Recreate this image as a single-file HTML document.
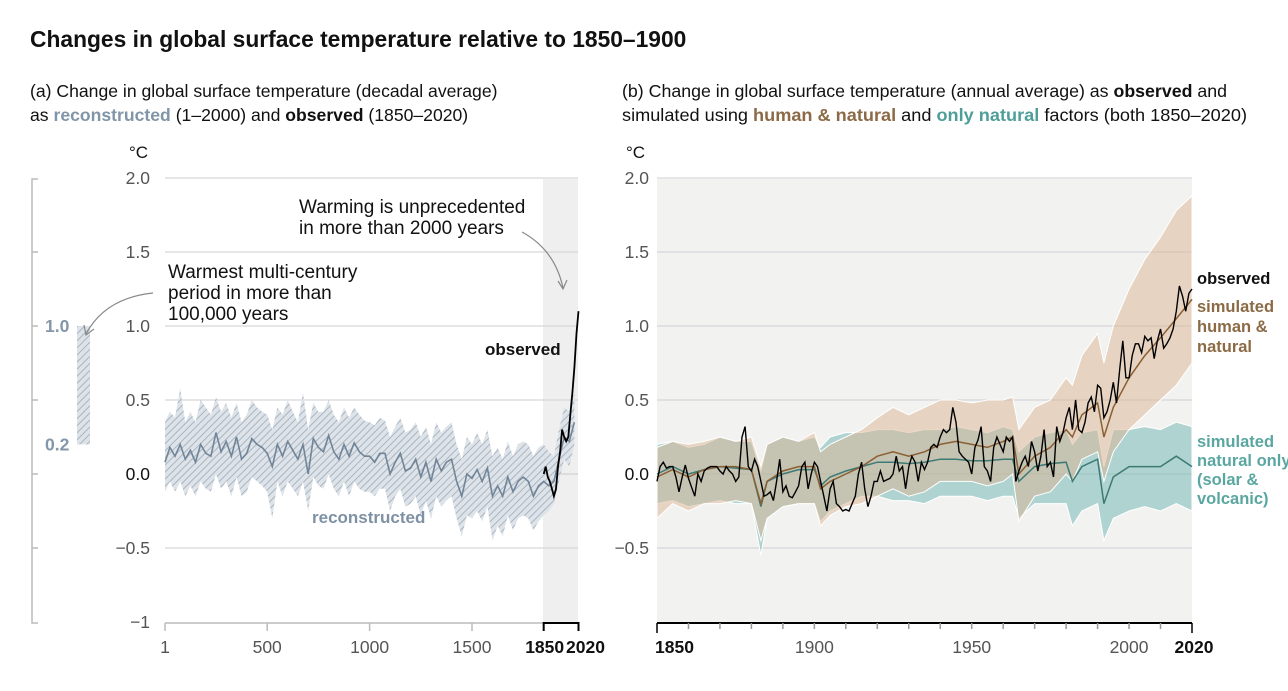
<!DOCTYPE html>
<html><head><meta charset="utf-8">
<style>
body{margin:0;background:#fff;width:1288px;height:686px;overflow:hidden;font-family:"Liberation Sans",sans-serif;}
svg text{font-family:"Liberation Sans",sans-serif;}
</style></head>
<body>
<svg id="chart" width="1288" height="686" viewBox="0 0 1288 686">
<defs>
<pattern id="hatch" patternUnits="userSpaceOnUse" width="5" height="5" patternTransform="rotate(45)">
<rect width="5" height="5" fill="#dde3e8"/>
<line x1="0" y1="0" x2="0" y2="5" stroke="#a9b5c1" stroke-width="2"/>
</pattern>
</defs>
<text x="30" y="47" font-size="22.8" font-weight="bold" fill="#111">Changes in global surface temperature relative to 1850–1900</text>
<text x="30" y="97" font-size="17.6" fill="#111">(a) Change in global surface temperature (decadal average)</text>
<text x="30" y="121" font-size="17.6" fill="#111">as <tspan fill="#8195a8" font-weight="bold">reconstructed</tspan> (1–2000) and <tspan font-weight="bold">observed</tspan> (1850–2020)</text>
<text x="622" y="97" font-size="17.6" fill="#111" textLength="605" lengthAdjust="spacingAndGlyphs">(b) Change in global surface temperature (annual average) as <tspan font-weight="bold">observed</tspan> and</text>
<text x="622" y="121" font-size="17.6" fill="#111" textLength="625" lengthAdjust="spacingAndGlyphs">simulated using <tspan fill="#8b6a45" font-weight="bold">human &amp; natural</tspan> and <tspan fill="#4f9e98" font-weight="bold">only natural</tspan> factors (both 1850–2020)</text>
<text x="129" y="158" font-size="17" fill="#111">°C</text>
<text x="626" y="158" font-size="17" fill="#111">°C</text>
<g id="pa"></g>
<g id="pb"></g>
</svg>
<script>
// ---------- Panel A data ----------
const rcMed=[0.08,0.18,0.12,0.20,0.10,0.16,0.08,0.20,0.14,0.12,0.28,0.15,0.22,0.12,0.25,0.10,0.14,0.24,0.20,0.18,0.14,0.05,0.20,0.12,0.22,0.16,0.10,0.20,0.0,0.24,0.18,0.15,0.26,0.15,0.10,0.20,0.12,0.21,0.15,0.12,0.12,0.08,0.14,0.14,0.0,0.08,0.14,0.02,0.04,0.10,-0.02,0.08,-0.05,0.10,0.02,0.08,0.10,-0.05,-0.15,0.0,-0.03,0.03,-0.05,0.04,-0.15,-0.08,-0.15,-0.02,-0.12,-0.05,-0.02,-0.05,-0.15,-0.08,-0.05,-0.08,-0.05,0.10,0.25,0.22,0.35];
const rcHi=[0.35,0.42,0.38,0.58,0.35,0.42,0.35,0.5,0.45,0.4,0.52,0.42,0.48,0.38,0.48,0.35,0.4,0.5,0.45,0.42,0.4,0.3,0.45,0.4,0.5,0.42,0.35,0.55,0.3,0.48,0.42,0.42,0.5,0.4,0.35,0.45,0.38,0.45,0.4,0.36,0.35,0.33,0.38,0.36,0.25,0.32,0.38,0.28,0.3,0.35,0.25,0.32,0.2,0.35,0.28,0.32,0.35,0.2,0.1,0.25,0.2,0.28,0.2,0.3,0.12,0.18,0.1,0.22,0.12,0.2,0.22,0.2,0.12,0.18,0.2,0.15,0.12,0.3,0.45,0.42,0.55];
const rcLo=[-0.12,-0.05,-0.12,-0.05,-0.15,-0.08,-0.15,-0.05,-0.1,-0.12,0.0,-0.1,-0.05,-0.15,-0.02,-0.15,-0.12,-0.02,-0.05,-0.08,-0.12,-0.3,-0.05,-0.15,-0.05,-0.1,-0.15,-0.05,-0.25,-0.02,-0.08,-0.1,0.0,-0.1,-0.15,-0.05,-0.15,-0.05,-0.1,-0.12,-0.12,-0.15,-0.1,-0.1,-0.25,-0.15,-0.1,-0.22,-0.2,-0.15,-0.28,-0.18,-0.3,-0.15,-0.22,-0.18,-0.15,-0.3,-0.42,-0.28,-0.3,-0.25,-0.32,-0.22,-0.45,-0.35,-0.42,-0.28,-0.38,-0.3,-0.28,-0.3,-0.38,-0.32,-0.28,-0.25,-0.2,-0.05,0.1,0.05,0.2];
const obsDecYears=[1850,1860,1870,1880,1890,1900,1910,1920,1930,1940,1950,1960,1970,1980,1990,2000,2010,2020];
const obsDec=[0.0,0.05,-0.02,-0.05,-0.1,-0.15,-0.1,0.05,0.15,0.3,0.25,0.22,0.25,0.4,0.55,0.72,0.95,1.1];
const aYTicks=[2.0,1.5,1.0,0.5,0.0,-0.5,-1];
const aYLabels=["2.0","1.5","1.0","0.5","0.0","−0.5","−1"];
const aXTicks=[1,500,1000,1500];
// ---------- Panel B data ----------
const obsAnnual=[-0.05,0.05,0.08,0.04,0.05,0.05,-0.02,-0.12,-0.02,0.06,
-0.03,-0.09,-0.15,0.0,-0.05,0.02,0.04,0.05,0.05,0.05,
0.02,0.0,0.05,0.02,0.0,-0.05,-0.02,0.25,0.32,0.05,
0.02,0.10,0.05,-0.05,-0.15,-0.14,-0.12,-0.18,-0.05,0.1,
-0.12,-0.08,-0.15,-0.16,-0.12,-0.08,0.05,0.08,-0.1,0.0,
0.08,0.05,-0.05,-0.15,-0.25,-0.1,-0.05,-0.2,-0.22,-0.25,
-0.24,-0.25,-0.2,-0.15,0.0,0.08,-0.1,-0.22,-0.15,-0.05,
-0.05,0.02,-0.05,-0.04,-0.03,0.0,0.12,0.02,0.05,-0.1,
0.05,0.12,0.08,-0.05,0.08,0.03,0.08,0.18,0.2,0.18,
0.25,0.3,0.28,0.3,0.45,0.35,0.15,0.12,0.1,0.08,
0.0,0.18,0.23,0.32,0.05,0.02,-0.05,0.18,0.25,0.2,
0.15,0.25,0.22,0.25,-0.05,0.02,0.08,0.12,0.05,0.22,
0.15,0.02,0.12,0.3,0.05,0.08,-0.02,0.32,0.22,0.28,
0.38,0.45,0.3,0.5,0.3,0.28,0.35,0.48,0.52,0.42,
0.6,0.58,0.38,0.42,0.5,0.62,0.48,0.7,0.9,0.65,
0.65,0.8,0.88,0.88,0.82,0.93,0.9,0.92,0.78,0.9,
0.98,0.85,0.88,0.92,0.98,1.1,1.27,1.2,1.1,1.22,
1.25];
const simYears=[1850,1855,1860,1865,1870,1875,1880,1883,1885,1890,1895,1900,1902,1905,1910,1915,1920,1925,1930,1935,1940,1945,1950,1955,1960,1963,1965,1970,1975,1980,1982,1985,1990,1992,1995,2000,2005,2010,2015,2020];
const hnMed=[-0.02,0.03,-0.02,0.03,0.05,0.05,0.03,-0.2,-0.05,0.02,0.05,0.05,-0.1,-0.05,0.0,0.05,0.12,0.15,0.12,0.15,0.2,0.22,0.2,0.18,0.22,0.25,0.0,0.12,0.18,0.3,0.25,0.4,0.48,0.25,0.45,0.65,0.8,0.92,1.05,1.18];
const hnHi=[0.18,0.22,0.2,0.22,0.25,0.22,0.25,0.05,0.2,0.25,0.22,0.28,0.15,0.2,0.25,0.3,0.38,0.45,0.4,0.45,0.5,0.5,0.48,0.5,0.5,0.52,0.3,0.45,0.5,0.65,0.6,0.8,0.95,0.75,1.0,1.25,1.45,1.6,1.78,1.88];
const hnLo=[-0.3,-0.2,-0.25,-0.2,-0.2,-0.18,-0.2,-0.45,-0.3,-0.22,-0.2,-0.2,-0.35,-0.28,-0.22,-0.2,-0.15,-0.1,-0.15,-0.12,-0.05,-0.05,-0.05,-0.08,-0.05,0.0,-0.32,-0.15,-0.12,0.0,-0.05,0.1,0.15,-0.05,0.15,0.3,0.4,0.5,0.6,0.75];
const natMed=[0.0,0.05,0.0,0.03,0.05,0.04,0.03,-0.22,-0.05,0.0,0.03,0.03,-0.08,-0.02,0.02,0.05,0.08,0.08,0.07,0.08,0.1,0.1,0.09,0.09,0.1,0.1,-0.05,0.05,0.07,0.08,-0.05,0.05,0.1,-0.2,-0.02,0.05,0.05,0.05,0.12,0.05];
const natHi=[0.2,0.22,0.18,0.2,0.25,0.22,0.22,0.02,0.2,0.25,0.22,0.25,0.18,0.25,0.28,0.28,0.3,0.3,0.28,0.3,0.3,0.32,0.3,0.28,0.32,0.3,0.15,0.25,0.28,0.3,0.2,0.28,0.3,0.05,0.3,0.3,0.32,0.3,0.35,0.32];
const natLo=[-0.2,-0.18,-0.22,-0.2,-0.18,-0.2,-0.2,-0.55,-0.3,-0.22,-0.2,-0.2,-0.32,-0.25,-0.2,-0.15,-0.15,-0.18,-0.18,-0.2,-0.15,-0.15,-0.15,-0.18,-0.15,-0.15,-0.3,-0.2,-0.2,-0.2,-0.35,-0.25,-0.2,-0.45,-0.3,-0.25,-0.22,-0.25,-0.2,-0.25];
const bYTicks=[2.0,1.5,1.0,0.5,0.0,-0.5];
const bYLabels=["2.0","1.5","1.0","0.5","0.0","−0.5"];
const bXLabels=[1900,1950,2000];

const NS="http://www.w3.org/2000/svg";
function mk(parent,tag,attrs,txt){const e=document.createElementNS(NS,tag);for(const k in attrs)e.setAttribute(k,attrs[k]);if(txt!==undefined)e.textContent=txt;parent.appendChild(e);return e;}
const yS=v=>474-v*148;
const xA=yr=>165+(yr-1)*(413.5/2019);
const xB=yr=>657+(yr-1850)*(535/170);
const rcYears=[];for(let i=0;i<rcMed.length;i++)rcYears.push(i===0?1:i*25);
const obsYears=[];for(let i=0;i<obsAnnual.length;i++)obsYears.push(1850+i);
function linePath(xs,ys,xf){return xs.map((x,i)=>(i?"L":"M")+xf(x).toFixed(1)+","+yS(ys[i]).toFixed(1)).join("");}
function bandPath(xs,hi,lo,xf){let d=xs.map((x,i)=>(i?"L":"M")+xf(x).toFixed(1)+","+yS(hi[i]).toFixed(1)).join("");for(let i=xs.length-1;i>=0;i--)d+="L"+xf(xs[i]).toFixed(1)+","+yS(lo[i]).toFixed(1);return d+"Z";}

// ---------- Panel A ----------
const pa=document.getElementById('pa');
let e=mk(pa,'rect',{x:543,y:179,width:35,height:444,fill:'#efefef'});


aYTicks.forEach((t,i)=>{
  if(t>-1){const g=mk(pa,'line',{x1:165,x2:578,y1:yS(t),y2:yS(t),stroke:t===0?'#d0d0d0':'#d8d8dc','stroke-width':1.2});
  
  }
  const l=mk(pa,'text',{x:150,y:yS(t)+6,'font-size':17.5,'text-anchor':'end',fill:t===0?'#111':'#555'},aYLabels[i]);
  
  
});
e=mk(pa,'path',{d:bandPath(rcYears,rcHi,rcLo,xA),fill:'url(#hatch)'});


e=mk(pa,'path',{d:linePath(rcYears,rcMed,xA),fill:'none',stroke:'#728598','stroke-width':1.6});


e=mk(pa,'path',{d:linePath(obsDecYears,obsDec,xA),fill:'none',stroke:'#000','stroke-width':1.8});


e=mk(pa,'line',{x1:165,x2:578,y1:623,y2:623,stroke:'#bbb','stroke-width':1.5});


aXTicks.forEach(t=>{
  const k=mk(pa,'line',{x1:xA(t),x2:xA(t),y1:623,y2:631,stroke:'#bbb','stroke-width':1.5});
  
  
  const l=mk(pa,'text',{x:xA(t),y:653,'font-size':17.5,'text-anchor':'middle',fill:'#555'},String(t));
  
  
});
e=mk(pa,'path',{d:`M${xA(1850)},631V623H${xA(2020)}V631`,fill:'none',stroke:'#000','stroke-width':2});


e=mk(pa,'text',{x:xA(1850)+1,y:653,'font-size':17.5,'font-weight':'bold','text-anchor':'middle',fill:'#111'},'1850');


e=mk(pa,'text',{x:xA(2020)+7,y:653,'font-size':17.5,'font-weight':'bold','text-anchor':'middle',fill:'#111'},'2020');


// left reference scale
e=mk(pa,'path',{d:'M38,179H32V623H38',fill:'none',stroke:'#bbb','stroke-width':1.5});


aYTicks.slice(1,6).forEach(t=>{const k=mk(pa,'line',{x1:32,x2:38,y1:yS(t),y2:yS(t),stroke:'#bbb','stroke-width':1.5});

});
e=mk(pa,'rect',{x:77,y:yS(1.0),width:13,height:yS(0.2)-yS(1.0),fill:'url(#hatch)'});


e=mk(pa,'text',{x:45,y:yS(1.0)+6,'font-size':17.5,fill:'#8496aa','font-weight':'bold'},'1.0');


e=mk(pa,'text',{x:45,y:yS(0.2)+6,'font-size':17.5,fill:'#8496aa','font-weight':'bold'},'0.2');


// annotations
[['Warming is unprecedented',299,213],['in more than 2000 years',299,234]].forEach(a=>{const t=mk(pa,'text',{x:a[1],y:a[2],'font-size':19,fill:'#111'},a[0]);

});
[['Warmest multi-century',168,278],['period in more than',168,299],['100,000 years',168,320]].forEach(a=>{const t=mk(pa,'text',{x:a[1],y:a[2],'font-size':19,fill:'#111'},a[0]);

});
e=mk(pa,'path',{d:'M522,232Q555,250 563,288M558,281L563,289L567,280',fill:'none',stroke:'#888','stroke-width':1.2});


e=mk(pa,'path',{d:'M153,293Q105,298 86,334M84,325L86,335L94,329',fill:'none',stroke:'#888','stroke-width':1.2});


e=mk(pa,'text',{x:485,y:355,'font-size':17,'font-weight':'bold',fill:'#111'},'observed');


e=mk(pa,'text',{x:312,y:523,'font-size':17,'font-weight':'bold',fill:'#7e91a4'},'reconstructed');



// ---------- Panel B ----------
const pb=document.getElementById('pb');
e=mk(pb,'rect',{x:657,y:179,width:535,height:444,fill:'#f2f2f1'});


bYTicks.forEach((t,i)=>{
  const g=mk(pb,'line',{x1:657,x2:1192,y1:yS(t),y2:yS(t),stroke:'#d6d6da','stroke-width':1.2});
  
  
  const l=mk(pb,'text',{x:649,y:yS(t)+6,'font-size':17.5,'text-anchor':'end',fill:t===0?'#111':'#555'},bYLabels[i]);
  
  
});
e=mk(pb,'path',{d:bandPath(simYears,natHi,natLo,xB),fill:'rgba(120,185,180,0.55)',stroke:'#fff','stroke-width':1});


e=mk(pb,'path',{d:bandPath(simYears,hnHi,hnLo,xB),fill:'rgba(220,180,145,0.5)',stroke:'#fff','stroke-width':1});


e=mk(pb,'path',{d:linePath(simYears,natMed,xB),fill:'none',stroke:'#3d7a75','stroke-width':1.5});


e=mk(pb,'path',{d:linePath(simYears,hnMed,xB),fill:'none',stroke:'#8a5f33','stroke-width':1.5});


e=mk(pb,'path',{d:linePath(obsYears,obsAnnual,xB),fill:'none',stroke:'#000','stroke-width':1.4});


e=mk(pb,'line',{x1:657,x2:1192,y1:623,y2:623,stroke:'#000','stroke-width':2});


for(let yr=1850;yr<=2020;yr+=10){
  const k=mk(pb,'line',{x1:xB(yr),x2:xB(yr),y1:623,y2:(yr===1850||yr===2020)?633:629,stroke:(yr===1850||yr===2020)?'#000':'#999','stroke-width':1.5});
  
  
}
bXLabels.forEach(t=>{const l=mk(pb,'text',{x:xB(t),y:653,'font-size':17.5,'text-anchor':'middle',fill:'#555'},String(t));

});
e=mk(pb,'text',{x:xB(1850)-2,y:653,'font-size':17.5,'font-weight':'bold',fill:'#111'},'1850');


e=mk(pb,'text',{x:xB(2020)+2,y:653,'font-size':17.5,'font-weight':'bold','text-anchor':'middle',fill:'#111'},'2020');


e=mk(pb,'text',{x:1197,y:284,'font-size':16.5,'font-weight':'bold',fill:'#111'},'observed');


[['simulated',312],['human &',332],['natural',352]].forEach(a=>{const t=mk(pb,'text',{x:1197,y:a[1],'font-size':16.5,'font-weight':'bold',fill:'#8b6a45'},a[0]);

});
[['simulated',447],['natural only',466],['(solar &',485],['volcanic)',504]].forEach(a=>{const t=mk(pb,'text',{x:1197,y:a[1],'font-size':16.5,'font-weight':'bold',fill:'#5aa6a0'},a[0]);

});
</script>
</body></html>
